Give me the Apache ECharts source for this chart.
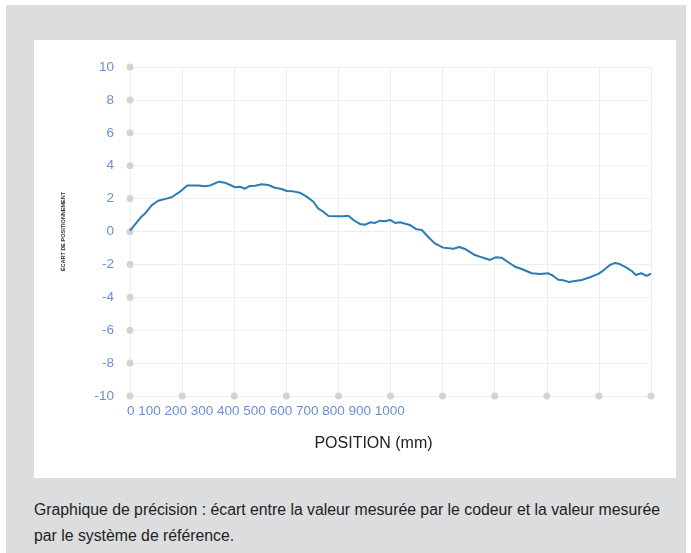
<!DOCTYPE html>
<html>
<head>
<meta charset="utf-8">
<script src="https://cdn.jsdelivr.net/npm/echarts@6/dist/echarts.min.js"></script>
<style>
  html, body { margin: 0; padding: 0; background: #fff; width: 691px; height: 553px; overflow: hidden; }
  #frame { position: absolute; left: 6px; top: 5px; width: 680px; height: 548px; background: #dcdddf; }
  #panel { position: absolute; left: 34px; top: 40px; width: 642px; height: 438px; background: #fff; }
  #chart { width: 642px; height: 438px; }
  #caption { position: absolute; left: 34px; top: 497px; width: 640px; font-family: "Liberation Sans", Arial, sans-serif; font-size: 15.8px; line-height: 26px; color: #222; }
</style>
</head>
<body>
<div id="frame"></div>
<div id="panel"><div id="chart"></div></div>
<div id="caption">Graphique de précision : écart entre la valeur mesurée par le codeur et la valeur mesurée par le système de référence.</div>
<script>
const positions = [0, 2, 22, 29, 42, 54, 70, 80, 96, 110, 131, 144, 154, 171, 182, 202, 211, 221, 230, 240, 253, 265, 278, 291, 301, 313, 326, 339, 352, 361, 371, 381, 397, 409, 419, 429, 441, 451, 461, 470, 480, 489, 499, 509, 518, 537, 550, 560, 573, 585, 601, 621, 632, 643, 662, 675, 691, 702, 713, 726, 739, 752, 771, 787, 803, 812, 822, 832, 843, 857, 867, 883, 899, 908, 921, 931, 940, 953, 963, 971, 981, 992, 1000];
const errors = [0.05, 0.15, 0.9, 1.1, 1.6, 1.87, 2.0, 2.08, 2.42, 2.8, 2.8, 2.75, 2.8, 3.03, 2.97, 2.69, 2.72, 2.6, 2.77, 2.78, 2.87, 2.83, 2.66, 2.58, 2.46, 2.44, 2.36, 2.12, 1.81, 1.41, 1.2, 0.94, 0.92, 0.92, 0.96, 0.7, 0.46, 0.41, 0.56, 0.52, 0.66, 0.62, 0.7, 0.52, 0.56, 0.4, 0.13, 0.09, -0.35, -0.72, -0.98, -1.05, -0.94, -1.06, -1.43, -1.57, -1.73, -1.57, -1.59, -1.87, -2.14, -2.28, -2.54, -2.58, -2.54, -2.69, -2.93, -2.97, -3.07, -3.0, -2.95, -2.78, -2.58, -2.38, -2.04, -1.91, -1.98, -2.2, -2.4, -2.64, -2.54, -2.7, -2.56];
const xTickLabels = ["0", "100", "200", "300", "400", "500", "600", "700", "800", "900", "1000"];
const yTicks = [-10, -8, -6, -4, -2, 0, 2, 4, 6, 8, 10];
const xTicks = [0, 100, 200, 300, 400, 500, 600, 700, 800, 900, 1000];
const xTitle = "POSITION (mm)";
const yTitle = "ÉCART DE POSITIONNEMENT";

const lineData = positions.map((p, i) => [p, errors[i]]);
const dotData = yTicks.map(v => [0, v]).concat(xTicks.slice(1).map(v => [v, -10]));

const chart = echarts.init(document.getElementById('chart'), null, { renderer: 'canvas' });
chart.setOption({
  animation: false,
  grid: { left: 96, top: 27, width: 521, height: 329, containLabel: false },
  xAxis: {
    type: 'value', min: 0, max: 1000, interval: 100,
    axisLine: { show: false }, axisTick: { show: false },
    splitLine: { show: true, lineStyle: { color: '#eeeeee', width: 1 } },
    axisLabel: {
      color: '#6b8fd4', fontSize: 13.5, fontFamily: 'Liberation Sans, Arial, sans-serif',
      margin: 8, align: 'left', padding: [0, 0, 0, -3],
      formatter: v => v === 0 ? xTickLabels.join(' ') : ''
    },
    name: xTitle, nameLocation: 'middle', nameGap: 40,
    nameTextStyle: { color: '#222', fontSize: 16, fontFamily: 'Liberation Sans, Arial, sans-serif', padding: [0, 34, 0, 0] }
  },
  yAxis: {
    type: 'value', min: -10, max: 10, interval: 2,
    axisLine: { show: false }, axisTick: { show: false },
    splitLine: { show: true, lineStyle: { color: '#eeeeee', width: 1 } },
    axisLabel: {
      color: '#6b8fd4', fontSize: 13.5, fontFamily: 'Liberation Sans, Arial, sans-serif', margin: 16,
      formatter: v => String(v)
    },
    name: yTitle, nameLocation: 'middle', nameGap: 64, nameRotate: 90,
    nameTextStyle: { color: '#333', fontSize: 5.5, fontWeight: 'bold', fontFamily: 'Liberation Sans, Arial, sans-serif' }
  },
  series: [
    {
      type: 'scatter', data: dotData, symbolSize: 7, silent: true,
      itemStyle: { color: '#c9c9c9' }, z: 1
    },
    {
      type: 'line', data: lineData, showSymbol: false, smooth: false,
      lineStyle: { color: '#2a7bb6', width: 2 }, z: 3
    }
  ]
});
</script>
</body>
</html>
